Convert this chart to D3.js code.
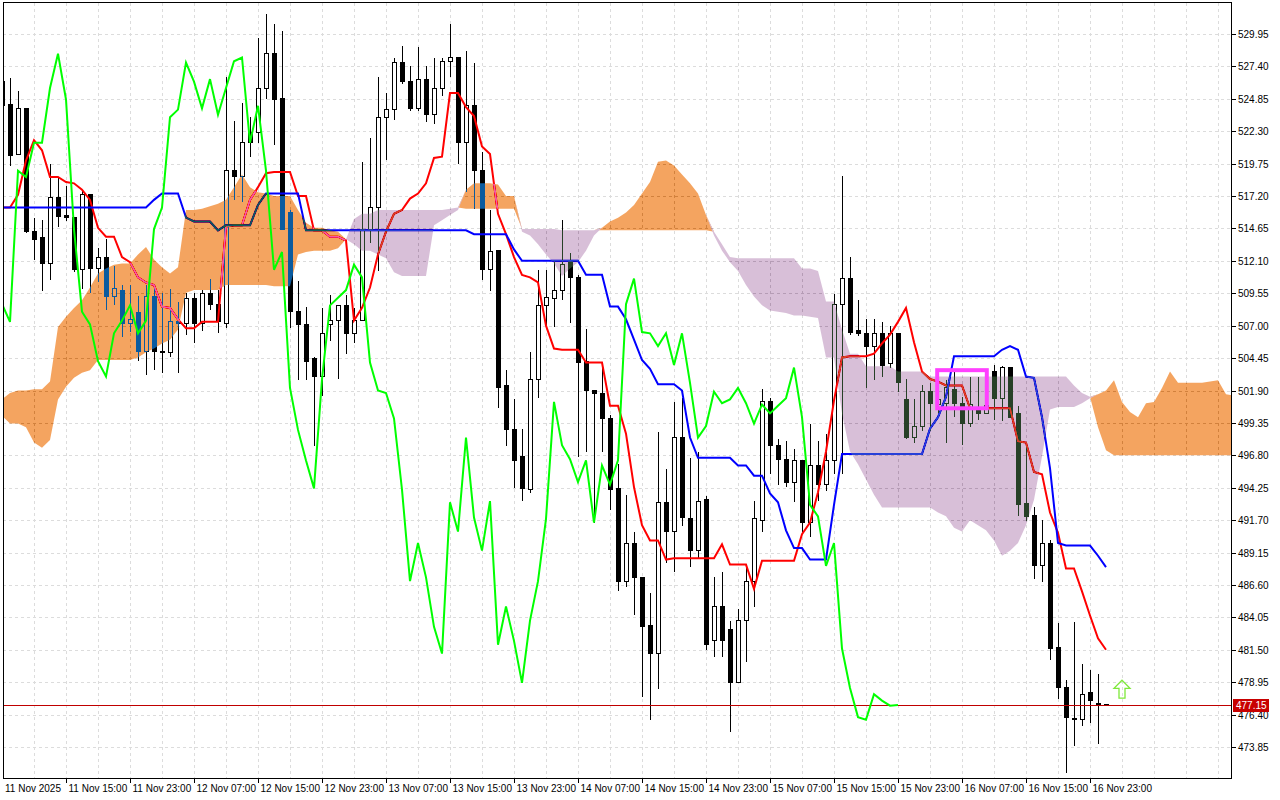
<!DOCTYPE html>
<html>
<head>
<meta charset="utf-8">
<script src="https://cdn.jsdelivr.net/npm/d3@7"></script>
<style>
  body { margin: 0; background: #fff; }
  svg { display: block; font-family: "Liberation Sans", Arial, sans-serif; }
</style>
</head>
<body>
<div id="container"></div>
<script>
// hourly candles, bar 0 = 11 Nov 07:00
const opens = [526.2,524.4,520.5,524.1,514.4,513.9,511.9,517.1,515.7,515.5,511.4,517.3,511.5,512.4,509.3,509.8,507.2,508.0,505.0,509.3,
  505.0,504.9,507.3,507.2,509.1,507.2,509.5,508.7,507.2,519.2,518.7,522.2,522.2,525.7,528.4,524.9,515.9,508.1,507.1,504.4,
  503.0,507.1,507.4,508.6,506.4,507.4,514.6,516.3,523.4,524.0,527.7,526.2,524.1,526.4,523.6,525.7,527.8,528.1,521.4,524.3,
  519.2,511.4,512.9,502.3,498.8,496.7,494.1,502.8,508.6,509.1,509.8,512.1,510.8,504.2,501.9,501.7,499.7,494.2,486.9,489.9,
  487.2,483.4,481.2,493.1,490.8,498.2,491.8,489.3,493.3,482.2,484.9,483.1,478.9,483.8,486.9,491.7,501.0,497.6,496.5,494.7,
  496.4,491.5,496.0,494.5,496.4,508.7,510.7,506.6,506.4,505.4,506.4,504.0,506.4,501.2,498.2,499.1,501.8,500.8,500.9,502.0,
  500.9,499.3,500.4,500.1,503.4,501.3,503.7,500.1,493.0,492.1,488.1,489.9,481.7,478.5,476.1,476.0,478.1,477.3,477.2];
const highs = [526.5,526.5,525.5,524.1,515.5,515.3,519.7,518.6,518.0,515.5,517.7,517.3,513.1,513.8,511.7,510.2,510.2,509.3,510.2,510.2,
  509.6,509.9,508.9,509.6,509.6,509.8,510.7,509.8,526.6,523.1,524.5,523.4,529.6,531.5,530.7,530.2,516.1,510.5,508.5,504.5,
  508.4,509.4,508.6,509.4,508.4,519.9,521.8,526.6,525.3,528.1,529.0,527.4,528.9,527.4,528.1,528.1,530.7,528.1,528.6,527.7,
  520.7,516.1,512.9,503.5,501.2,498.9,504.9,511.4,511.4,512.2,515.3,512.7,511.0,506.7,501.9,503.9,500.0,496.1,493.7,490.8,
  487.2,486.0,498.6,495.7,501.0,501.3,496.6,497.1,493.6,487.2,487.6,483.8,484.7,488.1,493.2,502.0,501.3,498.1,497.9,497.3,
  496.4,499.3,497.9,498.5,509.5,518.8,512.4,509.0,507.5,507.5,507.3,507.0,506.4,502.8,501.2,502.3,502.5,502.3,502.7,503.5,
  501.4,503.0,503.0,502.7,503.9,503.8,503.7,500.7,497.8,492.7,491.7,490.1,483.6,479.1,483.7,480.4,479.9,479.6,477.2];
const lows = [524.0,519.6,520.4,514.3,512.2,509.7,510.6,514.8,515.2,511.2,509.9,509.6,510.4,508.2,508.6,506.1,506.5,504.2,503.1,503.5,
  503.3,504.5,503.3,506.3,505.6,506.6,508.2,506.4,506.8,516.9,516.7,520.3,521.4,524.8,521.2,514.6,506.8,502.7,502.7,497.5,
  501.5,505.8,502.8,504.8,505.6,507.4,513.5,511.3,520.0,523.2,526.0,523.9,523.9,523.0,522.9,525.1,526.6,519.7,517.5,516.2,
  510.6,509.7,500.5,497.5,494.2,493.2,493.8,501.3,506.9,506.9,509.0,507.2,496.7,497.1,491.5,497.1,492.5,486.1,486.4,484.2,
  477.8,476.0,478.4,488.3,487.6,491.2,488.0,488.7,481.5,480.9,480.9,475.0,478.9,480.5,484.9,490.8,495.3,494.5,494.3,493.1,
  490.8,490.4,493.2,494.0,495.3,495.3,506.3,506.2,502.1,502.7,503.0,503.7,501.8,498.1,497.8,498.7,498.7,500.1,497.8,499.8,
  497.6,499.0,499.6,500.1,499.6,499.5,499.8,492.0,491.6,487.1,486.8,480.7,477.6,471.8,473.9,475.5,475.7,474.1,477.1];
const closes = [524.3,520.4,524.1,514.4,513.8,511.9,517.1,515.6,515.5,511.4,517.3,511.5,512.4,509.3,509.9,507.2,507.5,505.0,509.3,505.0,
  504.9,507.3,507.2,509.1,507.2,509.5,508.7,507.3,519.2,518.7,521.4,521.4,525.7,528.4,524.8,514.6,508.1,507.1,504.2,503.0,
  506.4,507.4,508.6,506.4,507.4,514.6,516.3,523.4,524.0,527.7,526.2,524.1,526.4,523.6,525.7,527.8,528.1,521.4,524.3,519.2,
  511.4,512.8,502.1,498.8,496.4,494.2,502.8,508.6,509.2,509.8,511.8,510.8,504.1,501.9,501.7,499.7,494.1,486.9,489.9,487.2,
  483.3,481.2,493.1,490.8,498.2,491.9,489.3,493.2,481.9,484.9,482.2,478.9,483.8,486.9,491.8,501.0,497.6,496.5,494.7,496.4,
  491.5,496.0,494.5,496.4,508.7,510.7,506.5,506.4,505.4,506.4,503.9,506.4,502.5,498.2,499.1,501.8,500.9,501.2,502.1,500.9,
  499.3,500.8,500.1,500.7,501.3,503.7,499.8,492.9,492.0,488.1,489.9,481.6,478.5,476.2,476.0,478.0,477.5,477.1,477.15];

const tenkan = [516.3,516.3,517.3,520.0,521.6,520.8,518.7,518.7,518.3,518.2,517.7,516.9,514.7,514.0,514.0,512.4,512.0,510.8,510.4,510.2,
  508.5,508.4,507.5,506.8,506.8,507.3,507.3,507.3,514.8,514.9,514.9,516.9,517.9,519.0,519.1,519.1,519.1,517.2,517.2,514.5,
  514.5,514.0,514.0,513.7,507.4,508.4,510.0,512.6,514.4,515.8,516.1,517.0,517.4,518.2,520.2,520.3,525.3,525.3,524.2,523.5,
  521.1,520.5,515.8,514.2,512.4,511.0,510.8,510.4,507.0,505.2,505.1,505.1,505.1,504.1,504.1,504.1,500.7,500.7,498.5,494.3,
  491.3,490.1,490.1,488.6,488.7,488.7,488.7,488.7,488.7,488.7,489.8,488.2,488.2,488.2,486.3,488.5,488.5,488.5,488.5,488.5,
  490.6,491.5,493.9,497.1,501.1,504.5,504.6,504.6,504.6,504.8,505.6,506.3,507.3,508.4,505.7,503.4,502.8,502.6,502.3,502.3,
  502.3,500.5,500.5,500.5,500.5,500.5,500.5,497.9,497.8,495.5,495.3,492.3,490.7,487.9,487.9,486.1,484.2,482.4,481.5];
const kijun = [516.3,516.3,516.3,516.3,516.3,516.3,516.3,516.3,516.3,516.3,516.3,516.3,516.3,516.3,516.3,516.3,516.3,516.3,516.3,516.9,
  517.4,517.4,517.4,515.5,515.2,515.2,515.2,514.5,514.9,514.9,514.9,514.9,516.5,517.4,517.4,517.4,517.4,517.4,514.5,514.5,
  514.5,514.5,514.5,514.5,514.5,514.5,514.5,514.5,514.5,514.5,514.5,514.5,514.5,514.5,514.5,514.5,514.5,514.5,514.5,514.2,
  514.2,514.2,514.2,514.2,513.0,512.1,512.1,512.1,512.1,512.1,512.1,512.1,512.1,511.0,511.0,511.0,508.5,508.5,507.5,505.9,
  504.3,503.6,502.4,502.4,502.4,501.9,498.2,496.6,496.6,496.6,496.6,496.6,496.0,496.0,495.2,495.2,493.8,493.1,490.9,489.5,
  489.5,488.6,488.6,488.6,492.9,496.9,496.9,496.9,496.9,496.9,496.9,496.9,496.9,496.9,496.9,496.9,498.9,499.8,501.4,504.6,
  504.6,504.6,504.6,504.6,504.6,505.1,505.4,505.1,503.0,502.9,499.8,495.8,489.9,489.7,489.7,489.7,489.7,488.9,488.0];
// senkou spans, already shifted 26 bars forward (index = bar on chart)
const spanA = [501.2,501.7,501.9,501.9,502.0,502.0,502.6,506.9,507.7,508.4,509.0,510.0,511.1,511.5,511.8,511.9,511.9,512.6,513.2,512.2,
  511.6,511.1,511.6,516.1,516.1,516.2,516.4,516.6,516.9,517.9,518.9,517.9,517.5,517.4,517.2,517.2,517.2,516.1,515.1,514.7,
  514.7,514.5,514.4,513.8,513.4,512.9,512.9,512.6,512.3,511.2,510.9,510.9,510.9,510.9,514.9,515.3,515.7,516.1,517.7,518.2,
  518.2,518.2,518.1,517.2,517.2,514.4,514.1,513.4,512.6,511.9,510.9,511.5,512.0,512.9,514.1,514.7,515.2,515.5,515.9,516.5,
  517.4,518.3,519.9,520.0,519.6,518.9,518.2,517.4,515.7,514.1,512.9,512.0,511.3,510.2,509.3,508.6,508.2,508.1,508.0,507.8,
  507.8,507.7,507.6,504.5,504.5,500.1,497.1,496.1,494.9,493.7,492.7,492.7,492.7,492.7,492.7,492.7,492.7,492.3,492.0,491.1,
  490.8,491.7,491.3,490.9,490.1,488.9,489.3,489.9,491.3,493.3,496.7,500.4,500.6,500.6,500.6,500.9,501.3,501.6,501.9,502.7,
  501.0,500.2,499.8,500.9,501.0,502.1,503.4,502.5,502.5,502.5,502.5,502.6,502.7,501.6,501.5];
const spanB = [499.9,499.3,499.3,499.0,497.8,497.4,498.0,501.2,502.2,502.9,503.3,503.5,504.3,504.3,504.3,504.3,504.3,504.5,504.9,505.2,
  505.6,505.9,506.7,509.6,509.8,509.8,509.8,509.8,510.2,510.2,510.2,510.2,510.2,510.2,510.1,510.1,510.1,512.6,512.8,512.9,
  512.9,512.9,513.1,513.8,515.4,515.8,515.8,516.1,516.1,516.1,516.1,516.1,516.1,516.1,516.1,516.1,516.2,516.3,516.2,516.2,
  516.2,516.2,516.2,516.2,516.2,514.6,514.6,514.6,514.6,514.6,514.5,514.5,514.5,514.5,514.5,514.5,514.5,514.5,514.5,514.5,
  514.5,514.5,514.5,514.5,514.5,514.5,514.5,514.5,514.5,514.4,513.4,512.4,512.3,512.3,512.3,512.3,512.3,512.3,512.3,512.3,
  511.5,511.5,511.3,508.9,508.9,506.7,504.8,504.8,503.8,503.8,503.8,503.8,503.4,503.4,503.4,503.4,503.0,503.0,503.0,503.0,
  503.0,503.0,503.0,503.0,503.0,503.0,503.0,503.0,503.0,503.0,503.0,503.0,503.0,503.0,502.3,501.7,501.4,499.0,497.2,496.8,
  496.8,496.8,496.8,496.8,496.8,496.8,496.8,496.8,496.8,496.8,496.8,496.8,496.8,496.8,496.8];

const chikouShift = 26;
const priceTicks = [529.95,527.40,524.85,522.30,519.75,517.20,514.65,512.10,509.55,507.00,504.45,501.90,499.35,496.80,
  494.25,491.70,489.15,486.60,484.05,481.50,478.95,476.40,473.85];
const timeBars = [0,8,16,24,32,40,48,56,64,72,80,88,96,104,112,120,128,136];
const timeLabels = ["11 Nov 2025","11 Nov 15:00","11 Nov 23:00","12 Nov 07:00","12 Nov 15:00","12 Nov 23:00",
  "13 Nov 07:00","13 Nov 15:00","13 Nov 23:00","14 Nov 07:00","14 Nov 15:00","14 Nov 23:00","15 Nov 07:00",
  "15 Nov 15:00","15 Nov 23:00","16 Nov 07:00","16 Nov 15:00","16 Nov 23:00"];
const lastPrice = 477.15;
const highlight = { from: 116.9, to: 123.1, top: 503.5, bottom: 500.5 };
const arrowMark = { bar: 140, top: 479.1, bottom: 477.7 };

const width = 1280, height = 800;
const plot = { left: 3, top: 3, right: 1232, bottom: 779 };

const x = d3.scaleLinear().domain([0, 1]).range([2, 10]);
const y = d3.scaleLinear().domain([473.85, 529.95]).range([747, 34]);

const svg = d3.select("#container").append("svg")
    .attr("width", width)
    .attr("height", height);

svg.append("rect").attr("width", width).attr("height", height).attr("fill", "#fff");

svg.append("clipPath").attr("id", "plotClip")
  .append("rect")
    .attr("x", plot.left).attr("y", plot.top)
    .attr("width", plot.right - plot.left).attr("height", plot.bottom - plot.top);

const g = svg.append("g").attr("clip-path", "url(#plotClip)");
// backdrop inside the clipped group so the kumo blend has white to invert
g.append("rect").attr("x", 0).attr("y", 0).attr("width", width).attr("height", height).attr("fill", "#fff");

// grid
const grid = g.append("g").attr("stroke", "#dcdcdc").attr("stroke-dasharray", "3,3").attr("shape-rendering", "crispEdges");
grid.selectAll("line.h").data(priceTicks).enter().append("line")
    .attr("x1", plot.left).attr("x2", plot.right)
    .attr("y1", d => Math.round(y(d)) + 0.5).attr("y2", d => Math.round(y(d)) + 0.5);
grid.selectAll("line.v").data(d3.range(4, 156, 4)).enter().append("line")
    .attr("y1", plot.top).attr("y2", plot.bottom)
    .attr("x1", d => x(d) + 0.5).attr("x2", d => x(d) + 0.5);

// candles
const bars = d3.range(opens.length);
const candle = g.append("g").attr("shape-rendering", "crispEdges");
candle.selectAll("line").data(bars).enter().append("line")
    .attr("x1", i => x(i) + 0.5).attr("x2", i => x(i) + 0.5)
    .attr("y1", i => y(highs[i])).attr("y2", i => y(lows[i]))
    .attr("stroke", "#000");
candle.selectAll("rect").data(bars).enter().append("rect")
    .attr("x", i => x(i) - 2 + 0.5)
    .attr("y", i => y(Math.max(opens[i], closes[i])))
    .attr("width", 4)
    .attr("height", i => Math.max(1, Math.abs(y(opens[i]) - y(closes[i]))))
    .attr("fill", i => closes[i] >= opens[i] ? "#fff" : "#000")
    .attr("stroke", "#000");

// current price line
g.append("line")
    .attr("x1", plot.left).attr("x2", plot.right)
    .attr("y1", Math.round(y(lastPrice)) + 0.5).attr("y2", Math.round(y(lastPrice)) + 0.5)
    .attr("stroke", "#c00000").attr("shape-rendering", "crispEdges");

// tenkan and kijun
const line = arr => d3.line().x((d, i) => x(i)).y(d => y(d))(arr);
g.append("path").attr("d", line(tenkan)).attr("fill", "none").attr("stroke", "#ff0000").attr("stroke-width", 2);
g.append("path").attr("d", line(kijun)).attr("fill", "none").attr("stroke", "#0000ff").attr("stroke-width", 2);

// kumo, drawn like the terminal does (inverting what is below it)
const spanIdx = d3.range(spanA.length);
const kumo = g.append("g").style("mix-blend-mode", "difference");
kumo.append("path")
    .attr("d", d3.area().x(i => x(i)).y0(i => y(spanB[i])).y1(i => y(Math.max(spanA[i], spanB[i])))(spanIdx))
    .attr("fill", "rgb(11,91,159)");
kumo.append("path")
    .attr("d", d3.area().x(i => x(i)).y0(i => y(spanA[i])).y1(i => y(Math.max(spanA[i], spanB[i])))(spanIdx))
    .attr("fill", "rgb(39,64,39)");

// chikou: closes drawn 26 bars back
const chikouIdx = d3.range(chikouShift, closes.length);
g.append("path")
    .attr("d", d3.line().x(i => x(i - chikouShift)).y(i => y(closes[i]))(chikouIdx))
    .attr("fill", "none").attr("stroke", "#00ff00").attr("stroke-width", 2);

// marked zone
g.append("rect")
    .attr("x", x(highlight.from)).attr("y", y(highlight.top))
    .attr("width", x(highlight.to) - x(highlight.from))
    .attr("height", y(highlight.bottom) - y(highlight.top))
    .attr("fill", "none").attr("stroke", "#ff40ff").attr("stroke-width", 4);

// up arrow
const ax = x(arrowMark.bar), at = y(arrowMark.top), ab = y(arrowMark.bottom);
const ah = (ab - at) * 0.45;
g.append("path")
    .attr("d", `M${ax},${at} L${ax + 8},${at + ah} L${ax + 3},${at + ah} L${ax + 3},${ab} L${ax - 3},${ab} L${ax - 3},${at + ah} L${ax - 8},${at + ah} Z`)
    .attr("fill", "none").attr("stroke", "#7ee83a").attr("stroke-width", 1.3);

// frame
svg.append("rect")
    .attr("x", plot.left + 0.5).attr("y", plot.top - 0.5)
    .attr("width", plot.right - plot.left - 1).attr("height", plot.bottom - plot.top)
    .attr("fill", "none").attr("stroke", "#000").attr("shape-rendering", "crispEdges");

// price axis
const pa = svg.append("g").attr("font-size", 10).attr("fill", "#000");
priceTicks.forEach(p => {
    const py = Math.round(y(p)) + 0.5;
    pa.append("line").attr("x1", plot.right).attr("x2", plot.right + 4).attr("y1", py).attr("y2", py)
        .attr("stroke", "#000").attr("shape-rendering", "crispEdges");
    pa.append("text").attr("x", plot.right + 6).attr("y", py + 3.5).text(p.toFixed(2));
});
const ly = Math.round(y(lastPrice));
pa.append("rect").attr("x", plot.right + 1).attr("y", ly - 6).attr("width", 36).attr("height", 13).attr("fill", "#c80000");
pa.append("text").attr("x", plot.right + 4).attr("y", ly + 4).attr("fill", "#fff").text(lastPrice.toFixed(2));

// time axis
const ta = svg.append("g").attr("font-size", 10).attr("fill", "#000");
timeBars.forEach((b, k) => {
    const tx = Math.round(x(b)) + 0.5;
    if (k > 0) ta.append("line").attr("x1", tx).attr("x2", tx).attr("y1", plot.bottom).attr("y2", plot.bottom + 4)
        .attr("stroke", "#000").attr("shape-rendering", "crispEdges");
    ta.append("text").attr("x", k === 0 ? 5 : tx + 2).attr("y", 792).text(timeLabels[k]);
});
</script>
</body>
</html>
